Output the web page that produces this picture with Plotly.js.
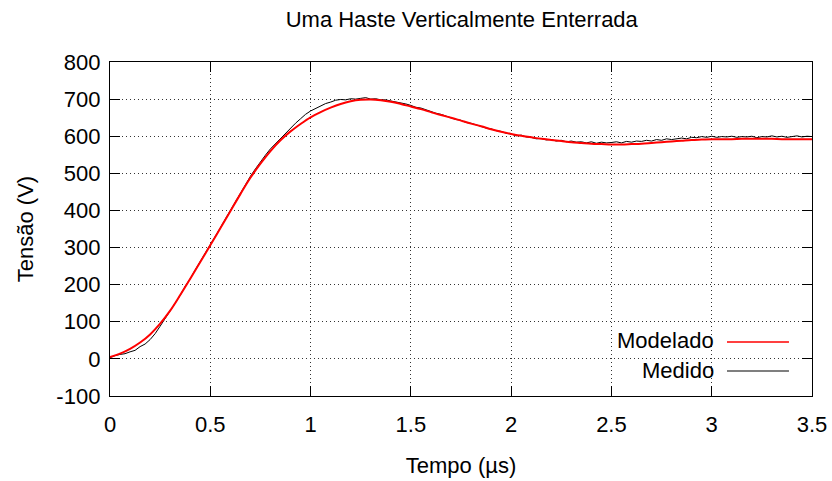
<!DOCTYPE html>
<html>
<head>
<meta charset="utf-8">
<script src="https://cdn.plot.ly/plotly-3.0.1.min.js"></script>
<style>html,body{margin:0;padding:0;background:#fff;}#chart{width:832px;height:481px;}</style>
</head>
<body>
<div id="chart"></div>
<script>
// Modelado (red), sampled every 0.05 µs
const tModel = [0.00,0.05,0.10,0.15,0.20,0.25,0.30,0.35,0.40,0.45,0.50,0.55,0.60,0.65,0.70,0.75,0.80,0.85,0.90,0.95,
  1.00,1.05,1.10,1.15,1.20,1.25,1.30,1.35,1.40,1.45,1.50,1.55,1.60,1.65,1.70,1.75,1.80,1.85,1.90,1.95,
  2.00,2.05,2.10,2.15,2.20,2.25,2.30,2.35,2.40,2.45,2.50,2.55,2.60,2.65,2.70,2.75,2.80,2.85,2.90,2.95,
  3.00,3.05,3.10,3.15,3.20,3.25,3.30,3.35,3.40,3.45,3.50];
const vModel = [5,14,27,44,66,95,130,172,216,261,306,352,398,444,488,526,560,589,613,633,
  651,665,677,687,694,698,699,697,693,687,680,673,665,657,650,642,634,627,619,612,
  606,601,597,593,590,587,584,582,580,579,578,578,579,580,582,584,586,588,590,591,
  592,592,592,593,593,593,593,592,592,592,592];

// Medido (black), sampled every 0.025 µs
const tMeas = [0.000,0.025,0.050,0.075,0.100,0.125,0.150,0.175,0.200,0.225,0.250,0.275,0.300,0.325,0.350,0.375,0.400,0.425,0.450,0.475,
  0.500,0.525,0.550,0.575,0.600,0.625,0.650,0.675,0.700,0.725,0.750,0.775,0.800,0.825,0.850,0.875,0.900,0.925,0.950,0.975,
  1.000,1.025,1.050,1.075,1.100,1.125,1.150,1.175,1.200,1.225,1.250,1.275,1.300,1.325,1.350,1.375,1.400,1.425,1.450,1.475,
  1.500,1.525,1.550,1.575,1.600,1.625,1.650,1.675,1.700,1.725,1.750,1.775,1.800,1.825,1.850,1.875,1.900,1.925,1.950,1.975,
  2.000,2.025,2.050,2.075,2.100,2.125,2.150,2.175,2.200,2.225,2.250,2.275,2.300,2.325,2.350,2.375,2.400,2.425,2.450,2.475,
  2.500,2.525,2.550,2.575,2.600,2.625,2.650,2.675,2.700,2.725,2.750,2.775,2.800,2.825,2.850,2.875,2.900,2.925,2.950,2.975,
  3.000,3.025,3.050,3.075,3.100,3.125,3.150,3.175,3.200,3.225,3.250,3.275,3.300,3.325,3.350,3.375,3.400,3.425,3.450,3.475,3.500];
const vMeas = [3,9,12,14,19,23,33,40,52,68,88,109,128,151,171,196,216,240,262,285,
  307,330,353,377,400,424,446,469,492,512,532,549,566,580,594,608,622,635,647,659,
  668,675,681,688,692,697,699,698,701,700,702,704,700,701,698,698,695,693,689,687,
  683,678,676,671,667,662,659,654,651,645,643,637,635,630,627,622,620,615,613,608,
  606,601,603,598,597,593,594,590,591,587,589,585,587,584,585,582,585,581,584,582,
  583,585,582,586,584,587,586,589,587,591,589,593,591,594,595,593,597,596,599,597,
  600,597,599,598,600,597,599,598,600,596,599,598,601,598,600,597,600,601,598,600,599];

const xTicks = [0,0.5,1,1.5,2,2.5,3,3.5];
const xTickText = ['0','0.5','1','1.5','2','2.5','3','3.5'];
const yTicks = [-100,0,100,200,300,400,500,600,700,800];
const yTickText = ['-100','0','100','200','300','400','500','600','700','800'];
const seriesNames = ['Modelado','Medido'];

const FONT = 'Liberation Sans, Arial, sans-serif';
const FS = 22;

const traces = [
  {x: tMeas, y: vMeas, type: 'scatter', mode: 'lines', name: seriesNames[1],
   line: {color: '#000000', width: 1}, showlegend: false},
  {x: tModel, y: vModel, type: 'scatter', mode: 'lines', name: seriesNames[0],
   line: {color: '#ff0000', width: 2, shape: 'spline'}, showlegend: false}
];

const axisCommon = {
  showline: true, linecolor: '#000', linewidth: 1.2, mirror: 'ticks',
  ticks: 'inside', ticklen: 10, tickwidth: 1, tickcolor: '#000',
  showgrid: true, gridcolor: '#333', gridwidth: 1, griddash: '1px,3px',
  zeroline: false, tickfont: {family: FONT, size: FS, color: '#000'}
};

const layout = {
  width: 832, height: 481,
  margin: {l: 110, r: 20, t: 62, b: 85},
  paper_bgcolor: '#fff', plot_bgcolor: '#fff',
  title: {text: 'Uma Haste Verticalmente Enterrada', font: {family: FONT, size: FS, color: '#000'},
          x: 0.555, xanchor: 'center', y: 0.96, yanchor: 'middle'},
  xaxis: Object.assign({}, axisCommon, {range: [0, 3.5], tickvals: xTicks, ticktext: xTickText,
          ticklabelstandoff: 8,
          title: {text: 'Tempo (µs)', font: {family: FONT, size: FS, color: '#000'}, standoff: 22}}),
  yaxis: Object.assign({}, axisCommon, {range: [-100, 800], tickvals: yTicks, ticktext: yTickText,
          ticklabelstandoff: 4,
          title: {text: 'Tensão (V)', font: {family: FONT, size: FS, color: '#000'}, standoff: 16}}),
  showlegend: false,
  annotations: [
    {xref: 'paper', yref: 'paper', x: 0.8632, y: 0.1647, xanchor: 'right', yanchor: 'middle',
     text: seriesNames[0], showarrow: false, font: {family: FONT, size: FS, color: '#000'}},
    {xref: 'paper', yref: 'paper', x: 0.8632, y: 0.0778, xanchor: 'right', yanchor: 'middle',
     text: seriesNames[1], showarrow: false, font: {family: FONT, size: FS, color: '#000'}}
  ],
  shapes: [
    {type: 'line', xref: 'paper', yref: 'paper', x0: 0.8789, x1: 0.9672, y0: 0.1617, y1: 0.1617,
     line: {color: '#ff0000', width: 1.5}},
    {type: 'line', xref: 'paper', yref: 'paper', x0: 0.8789, x1: 0.9672, y0: 0.0748, y1: 0.0748,
     line: {color: '#000000', width: 1.2}}
  ]
};

Plotly.newPlot('chart', traces, layout, {displayModeBar: false, staticPlot: true});
</script>
</body>
</html>
